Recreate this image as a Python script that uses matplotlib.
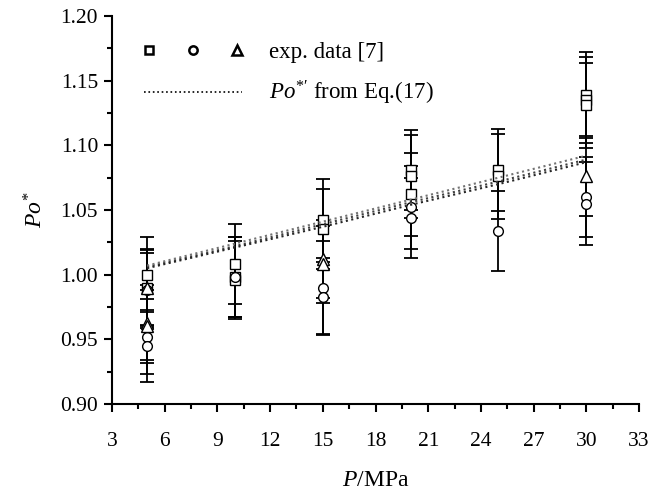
import matplotlib
matplotlib.use("Agg")
import matplotlib.pyplot as plt
from matplotlib.legend_handler import HandlerTuple
from matplotlib.lines import Line2D
from matplotlib.ticker import MultipleLocator, FormatStrFormatter

# ── Fonts ─────────────────────────────────────────────────────────────────────
plt.rcParams["font.family"] = ["Liberation Serif", "DejaVu Serif"]
plt.rcParams["mathtext.fontset"] = "custom"
plt.rcParams["mathtext.rm"] = "Liberation Serif"
plt.rcParams["mathtext.it"] = "Liberation Serif:italic"

# ── Data ─────────────────────────────────────────────────────────────────────
# squares
sq_p   = [5, 5, 10, 10, 10, 15, 15, 20, 20, 20, 25, 25, 30, 30, 30]
sq_po  = [1.000, 0.990, 1.008, 0.998, 0.996, 1.042, 1.035, 1.081, 1.076,
          1.062, 1.081, 1.076, 1.139, 1.135, 1.131]
sq_err = [0.029, 0.029, 0.031, 0.031, 0.030, 0.032, 0.031, 0.031, 0.032,
          0.032, 0.032, 0.033, 0.033, 0.033, 0.033]
# circles
ci_p   = [5, 5, 5, 10, 15, 15, 20, 20, 25, 30, 30]
ci_po  = [0.988, 0.952, 0.945, 0.998, 0.990, 0.983, 1.052, 1.044, 1.034,
          1.060, 1.055]
ci_err = [0.029, 0.029, 0.028, 0.031, 0.036, 0.030, 0.032, 0.031, 0.031,
          0.031, 0.032]
# triangles
tr_p   = [5, 5, 5, 15, 15, 30]
tr_po  = [0.990, 0.963, 0.960, 1.012, 1.008, 1.076]
tr_err = [0.030, 0.029, 0.028, 0.030, 0.030, 0.031]

# model curves Po*' from Eq.(17)
eq_p = [5, 10, 15, 20, 25, 30]
eq_a = [1.006, 1.022, 1.039, 1.056, 1.072, 1.089]
eq_b = [1.007, 1.024, 1.041, 1.058, 1.075, 1.092]
eq_c = [1.005, 1.021, 1.037, 1.054, 1.070, 1.087]

# ── Figure ───────────────────────────────────────────────────────────────────
fig = plt.figure(figsize=(6.53, 4.91), dpi=100)
ax = fig.add_axes([0.1715, 0.1772, 0.8071, 0.7902])

eb_kw = dict(fmt="none", ecolor="black", elinewidth=1.3, capsize=5,
             capthick=1.3, zorder=2)
mk_kw = dict(linestyle="none", markerfacecolor="white",
             markeredgecolor="black", markeredgewidth=1.0)

ax.errorbar(sq_p, sq_po, yerr=sq_err, **eb_kw)
ax.errorbar(ci_p, ci_po, yerr=ci_err, **eb_kw)
ax.errorbar(tr_p, tr_po, yerr=tr_err, **eb_kw)
ax.plot(sq_p, sq_po, marker="s", markersize=7, zorder=3, **mk_kw)
ax.plot(ci_p, ci_po, marker="o", markersize=7, zorder=3, **mk_kw)
ax.plot(tr_p, tr_po, marker="^", markersize=8, zorder=3, **mk_kw)

for ys, col in [(eq_a, "0.25"), (eq_b, "0.45"), (eq_c, "0.15")]:
    ax.plot(eq_p, ys, linestyle=":", color=col, lw=1.5, zorder=4)

# ── Axes styling ─────────────────────────────────────────────────────────────
ax.set_xlim(3, 33)
ax.set_ylim(0.90, 1.20)
ax.xaxis.set_major_locator(MultipleLocator(3))
ax.xaxis.set_minor_locator(MultipleLocator(1.5))
ax.yaxis.set_major_locator(MultipleLocator(0.05))
ax.yaxis.set_minor_locator(MultipleLocator(0.025))
ax.yaxis.set_major_formatter(FormatStrFormatter("%.2f"))
for s in ["top", "right"]:
    ax.spines[s].set_visible(False)
for s in ["left", "bottom"]:
    ax.spines[s].set_linewidth(1.5)
ax.tick_params(which="major", direction="out", length=6, width=1.5,
               labelsize=15.5, pad=4)
ax.tick_params(which="minor", direction="out", length=3.5, width=1.5)
ax.tick_params(axis="x", which="major", pad=14)

ax.set_xlabel("$P$/MPa", fontsize=17, labelpad=14)
ax.set_ylabel("$Po^{*}$", fontsize=17, labelpad=9)

# ── Legend ───────────────────────────────────────────────────────────────────
h_sq = Line2D([], [], marker="s", markersize=6, **mk_kw)
h_ci = Line2D([], [], marker="o", markersize=6, **mk_kw)
h_tr = Line2D([], [], marker="^", markersize=7, **mk_kw)
for h in (h_sq, h_ci, h_tr):
    h.set_markeredgewidth(1.8)
h_ln = Line2D([], [], linestyle=":", color="black", lw=1.2)

ax.legend([(h_sq, h_ci, h_tr), h_ln],
          ["exp. data [7]", "$Po^{*\\prime}$ from Eq.(17)"],
          handler_map={tuple: HandlerTuple(ndivide=None, pad=1.44)},
          loc="upper left", bbox_to_anchor=(0.03, 0.975),
          frameon=False, fontsize=16.5, handlelength=4.3,
          handletextpad=1.15, labelspacing=0.7, borderpad=0.2,
          numpoints=1)

fig.savefig("out.png", dpi=100)
